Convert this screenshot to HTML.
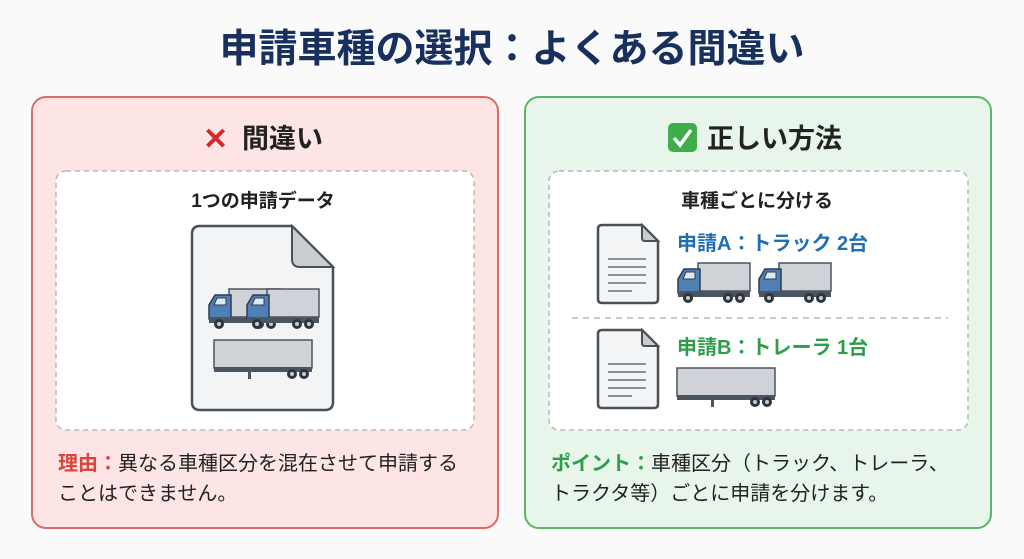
<!DOCTYPE html>
<html><head><meta charset="utf-8"><style>
html,body{margin:0;padding:0;background:#fafafa;}
svg{display:block;font-family:"Liberation Sans","Noto Sans CJK JP",sans-serif;}
</style></head><body>
<svg width="1024" height="559" viewBox="0 0 1024 559" xmlns="http://www.w3.org/2000/svg">
<defs>
<g id="truck">
  <rect x="22" y="0" width="52" height="28" fill="#cfd3d8" stroke="#4a5560" stroke-width="1.5"/>
  <path d="M2 30 L2 16 L8 6 L24 6 L24 30 Z" fill="#4f7fb3" stroke="#2d3d50" stroke-width="1.5"/>
  <path d="M7 16 L10 9 L19 9 L19 16 Z" fill="#dce8f3" stroke="#2d3d50" stroke-width="1"/>
  <rect x="2" y="28" width="72" height="6" fill="#4a5560"/>
  <circle cx="12" cy="35" r="5" fill="#2d3540"/><circle cx="12" cy="35" r="2" fill="#ccc"/>
  <circle cx="52" cy="35" r="5" fill="#2d3540"/><circle cx="52" cy="35" r="2" fill="#ccc"/>
  <circle cx="64" cy="35" r="5" fill="#2d3540"/><circle cx="64" cy="35" r="2" fill="#ccc"/>
</g>
<g id="trailer">
  <rect x="0" y="0" width="98" height="28" fill="#cfd3d8" stroke="#4a5560" stroke-width="1.5"/>
  <rect x="0" y="27" width="98" height="5" fill="#4a5560"/>
  <rect x="34" y="31" width="3" height="8" fill="#4a5560"/>
  <circle cx="78" cy="34" r="5" fill="#2d3540"/><circle cx="78" cy="34" r="2" fill="#ccc"/>
  <circle cx="90" cy="34" r="5" fill="#2d3540"/><circle cx="90" cy="34" r="2" fill="#ccc"/>
</g>
<g id="doc">
  <path d="M4 0 H44 L60 16 V74 Q60 78 56 78 H4 Q0 78 0 74 V4 Q0 0 4 0 Z" fill="#f3f4f6" stroke="#4a5058" stroke-width="2.5"/>
  <path d="M44 0 V13 Q44 16 47 16 H60 Z" fill="#c9ccd0" stroke="#4a5058" stroke-width="2"/>
  <g stroke="#8a9098" stroke-width="2"><line x1="10" y1="34" x2="48" y2="34"/><line x1="10" y1="42" x2="48" y2="42"/><line x1="10" y1="50" x2="48" y2="50"/><line x1="10" y1="58" x2="48" y2="58"/><line x1="10" y1="66" x2="34" y2="66"/></g>
</g>
</defs>
<rect width="1024" height="559" fill="#fafafa"/>
<text x="512" y="62" text-anchor="middle" font-size="39" font-weight="bold" fill="#17305e">申請車種の選択：よくある間違い</text>

<!-- left -->
<rect x="32" y="97" width="466" height="431" rx="14" fill="#fde5e5" stroke="#dd6a6a" stroke-width="2"/>
<text x="203" y="149" font-size="30" font-weight="bold" fill="#d42a2a">✕</text>
<text x="242" y="148" font-size="27" font-weight="bold" fill="#222">間違い</text>
<rect x="56" y="171" width="418" height="259" rx="10" fill="#fff" stroke="#b5b8bc" stroke-width="1.5" stroke-dasharray="5 4"/>
<text x="263" y="207" text-anchor="middle" font-size="19" font-weight="bold" fill="#222">1つの申請データ</text>
<path d="M200 226 H292 L333 267 V402 Q333 410 325 410 H200 Q192 410 192 402 V234 Q192 226 200 226 Z" fill="#f3f4f6" stroke="#4a5058" stroke-width="2.5"/>
<path d="M292 226 V259 Q292 267 300 267 H333 Z" fill="#c9ccd0" stroke="#4a5058" stroke-width="2"/>
<use href="#truck" x="207" y="289"/>
<use href="#truck" x="245" y="289"/>
<use href="#trailer" x="214" y="340"/>
<text x="58" y="470" font-size="20" fill="#222"><tspan fill="#d9443f" font-weight="bold">理由：</tspan>異なる車種区分を混在させて申請する</text>
<text x="58" y="500" font-size="20" fill="#222">ことはできません。</text>

<!-- right -->
<rect x="525" y="97" width="466" height="431" rx="14" fill="#e8f5ea" stroke="#5cb46a" stroke-width="2"/>
<rect x="668" y="123" width="29" height="29" rx="5" fill="#3fae4a"/>
<path d="M674 138 L680 145 L691 130" fill="none" stroke="#fff" stroke-width="3.5"/>
<text x="707" y="148" font-size="27" font-weight="bold" fill="#222">正しい方法</text>
<rect x="549" y="171" width="419" height="259" rx="10" fill="#fff" stroke="#b5b8bc" stroke-width="1.5" stroke-dasharray="5 4"/>
<text x="757" y="207" text-anchor="middle" font-size="19" font-weight="bold" fill="#222">車種ごとに分ける</text>
<use href="#doc" x="598" y="225"/>
<text x="677" y="250" font-size="20" font-weight="bold" fill="#1f6fb5">申請A：トラック 2台</text>
<use href="#truck" x="676" y="263"/>
<use href="#truck" x="757" y="263"/>
<line x1="572" y1="318" x2="948" y2="318" stroke="#b5b8bc" stroke-width="1.5" stroke-dasharray="6 5"/>
<use href="#doc" x="598" y="330"/>
<text x="677" y="354" font-size="20" font-weight="bold" fill="#2e9e4a">申請B：トレーラ 1台</text>
<use href="#trailer" x="677" y="368"/>
<text x="551" y="470" font-size="20" fill="#222"><tspan fill="#2e9e4a" font-weight="bold">ポイント：</tspan>車種区分（トラック、トレーラ、</text>
<text x="551" y="500" font-size="20" fill="#222">トラクタ等）ごとに申請を分けます。</text>
</svg>
</body></html>
